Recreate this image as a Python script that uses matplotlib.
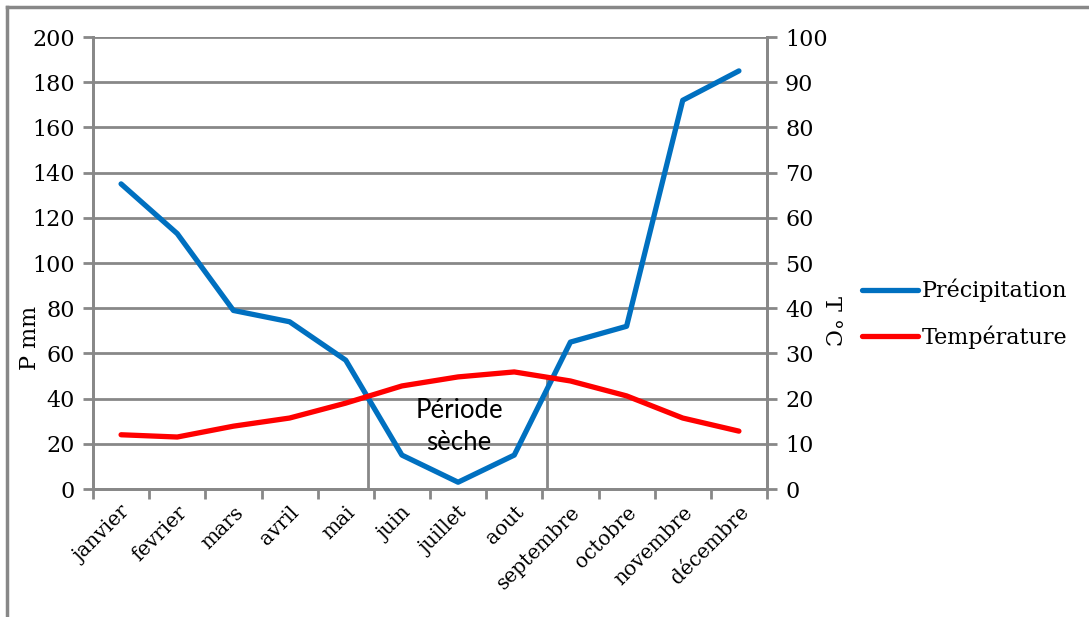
import matplotlib
matplotlib.use("Agg")
import matplotlib.pyplot as plt
import numpy as np
from matplotlib.lines import Line2D

months = ["janvier", "fevrier", "mars", "avril", "mai", "juin", "juillet",
          "aout", "septembre", "octobre", "novembre", "décembre"]
precip_mm = [135, 113, 79, 74, 57, 15, 3, 15, 65, 72, 172, 185]
temp_c = [12, 11.5, 13.9, 15.7, 19, 22.8, 24.8, 25.9, 23.9, 20.6, 15.7, 12.8]
p_ticks = [0, 20, 40, 60, 80, 100, 120, 140, 160, 180, 200]
t_ticks = [0, 10, 20, 30, 40, 50, 60, 70, 80, 90, 100]
# Start and end of the dry period, in month positions (0 = janvier)
dry_bounds = [4.39, 7.59]

GRID = "#888888"
BLUE = "#0070C0"
RED = "#FF0000"
SERIF = "DejaVu Serif"
FS = 16

fig = plt.figure(figsize=(10.89, 6.17), dpi=100)
ax = fig.add_axes([93 / 1089, 1 - 489 / 617, (767 - 93) / 1089, (489 - 37) / 617])
ax2 = ax.twinx()

x = np.arange(len(months))

# Vertical markers from the x axis up to the temperature curve (2 mm per °C)
for xb in dry_bounds:
    top = 2 * np.interp(xb, x, temp_c)
    ax.plot([xb, xb], [0, top], color=GRID, lw=2, zorder=1)

ax.plot(x, precip_mm, color=BLUE, lw=3.8, solid_capstyle="round", zorder=3)
ax2.plot(x, temp_c, color=RED, lw=3.8, solid_capstyle="round", zorder=3)

ax.set_xlim(-0.5, len(months) - 0.5)
ax.set_ylim(0, 200)
ax2.set_ylim(0, 100)

ax.set_yticks(p_ticks)
ax.set_yticklabels([str(v) for v in p_ticks], fontsize=FS, family=SERIF)
ax2.set_yticks(t_ticks)
ax2.set_yticklabels([str(v) for v in t_ticks], fontsize=FS, family=SERIF)

ax.set_xticks(np.arange(-0.5, len(months), 1.0))
ax.set_xticklabels([])
ax.set_xticks(x, minor=True)
ax.set_xticklabels(months, minor=True, rotation=45, ha="right",
                   rotation_mode="anchor", fontsize=14.5, family=SERIF)
ax.tick_params(axis="x", which="minor", length=0, pad=10)
ax.tick_params(axis="x", which="major", length=7, width=2, color=GRID)
ax.tick_params(axis="y", length=7, width=2, color=GRID, pad=6)
ax2.tick_params(axis="y", length=7, width=2, color=GRID, pad=6)

ax.grid(axis="y", color=GRID, lw=2)
ax.set_axisbelow(True)
for a in (ax, ax2):
    a.spines["top"].set_visible(False)
    for s in ("left", "right", "bottom"):
        a.spines[s].set_color(GRID)
        a.spines[s].set_linewidth(2)

ax.set_ylabel("P mm", fontsize=FS, family=SERIF)
ax2.set_ylabel("T °C", fontsize=FS, family=SERIF, rotation=-90)
ax.yaxis.set_label_coords(-0.077, 0.334)
ax2.yaxis.set_label_coords(1.111, 0.372)

ax.text(6.02, 27.5, "Période\nsèche", ha="center", va="center",
        fontsize=18.5, family="Lato", linespacing=1.35, zorder=4)

handles = [Line2D([], [], color=BLUE, lw=3.8, solid_capstyle="round"),
           Line2D([], [], color=RED, lw=3.8, solid_capstyle="round")]
fig.legend(handles, ["Précipitation", "Température"],
           loc="center left", bbox_to_anchor=(862 / 1089, 1 - 314 / 617),
           frameon=False, prop={"family": SERIF, "size": FS},
           borderaxespad=0, borderpad=0,
           handlelength=2.5, handletextpad=0.2, labelspacing=1.05)

# Outer frame: top and left edges
fig.add_artist(Line2D([7 / 1089, 1], [1 - 7 / 617, 1 - 7 / 617],
                      transform=fig.transFigure, color=GRID, lw=2.5))
fig.add_artist(Line2D([7 / 1089, 7 / 1089], [0, 1 - 7 / 617],
                      transform=fig.transFigure, color=GRID, lw=2.5))

fig.savefig("out.png", dpi=100)
